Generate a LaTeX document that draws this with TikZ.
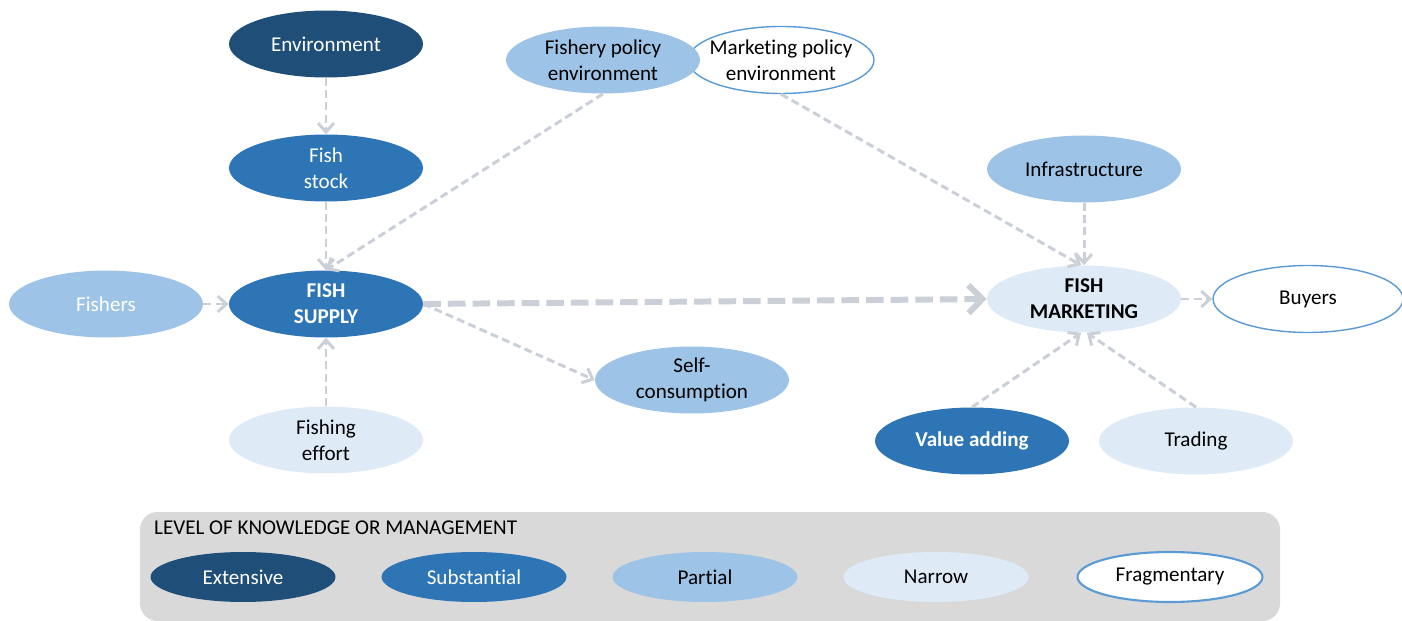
\documentclass[tikz,border=0pt]{standalone}
\usepackage{fontspec}
\setmainfont{Carlito}[Ligatures=NoCommon]
\usetikzlibrary{shapes.geometric, arrows.meta}

\definecolor{extensive}{HTML}{1F4E79}
\definecolor{substantial}{HTML}{2E75B6}
\definecolor{partial}{HTML}{9DC3E6}
\definecolor{narrow}{HTML}{DEEBF7}
\definecolor{fragline}{HTML}{5B9BD5}
\definecolor{linkgray}{HTML}{CACFD8}
\definecolor{legendbg}{HTML}{D9D9D9}

\begin{document}
\begin{tikzpicture}
          [
            x=0.02cm, y=-0.02cm,
            every node/.style={font=\fontsize{12}{14.7}\selectfont, align=center},
            blob/.style={ellipse, minimum width=3.88cm, minimum height=1.34cm, inner sep=0pt},
            keyblob/.style={ellipse, minimum width=3.7cm, minimum height=1.0cm, inner sep=0pt},
            ext/.style={fill=extensive, text=white},
            sub/.style={fill=substantial, text=white},
            par/.style={fill=partial},
            nar/.style={fill=narrow},
            frag/.style={fill=white, draw=fragline, line width=0.8pt},
            flow/.style={draw=linkgray, line width=1.7pt, line join=round,
              dash pattern=on 4.5pt off 2.5pt,
              -{Straight Barb[length=5pt, width=9pt]}},
            bigflow/.style={draw=linkgray, line width=3.4pt, line join=round,
              dash pattern=on 10pt off 4pt,
              -{Straight Barb[length=8pt, width=16pt]}}
          ]
          \useasboundingbox (0,0) rectangle (1402,621);
          % supply side
          \node [blob, ext] (env) at (326,44) {Environment};
          \node [blob, sub] (stock) at (326,168) {Fish\\stock};
          \node [blob, sub, font=\fontsize{12}{14.7}\selectfont\bfseries] (supply) at (326,304) {FISH\\SUPPLY};
          \node [blob, par, text=white] (fishers) at (106,304) {Fishers};
          \node [blob, nar] (effort) at (326,440) {Fishing\\effort};
          \node [blob, par] (selfc) at (692,380) {Self-\\consumption};
          % policy
          \node [blob, frag, minimum width=3.72cm, inner xsep=-9pt] (mkpol) at (781,60) {Marketing policy\\environment};
          \node [blob, par, inner xsep=-6pt] (fipol) at (603,60) {Fishery policy\\environment};
          % marketing side
          \node [blob, par] (infra) at (1084,169) {Infrastructure};
          \node [blob, nar, font=\fontsize{12}{14.7}\selectfont\bfseries] (market) at (1084,299) {FISH\\MARKETING};
          \node [blob, frag, minimum width=3.8cm] (buyers) at (1308,299) {Buyers};
          \node [blob, sub, font=\fontsize{12}{14.7}\selectfont\bfseries] (value) at (972,441) {Value adding};
          \node [blob, nar] (trading) at (1196,441) {Trading};
          % links
          \draw [flow] (env) -- (stock);
          \draw [flow] (stock) -- (supply);
          \draw [flow] (fipol.south) -- (supply.north);
          \draw [flow] (fishers) -- (supply);
          \draw [flow] (effort) -- (supply);
          \draw [flow] (supply.east) -- (selfc.west);
          \draw [bigflow] (supply.east) -- (market.west);
          \draw [flow] (mkpol.south) -- (market.95);
          \draw [flow] (infra) -- (market);
          \draw [flow] (market) -- (buyers);
          \draw [flow] (value.north) -- (market.-95);
          \draw [flow] (trading.north) -- (market.-85);
          % legend
          \fill [legendbg, rounded corners=10pt] (140,512) rectangle (1280,621);
          \node [anchor=west] (keytitle) at (148,528) {LEVEL OF KNOWLEDGE OR MANAGEMENT};
          \node [keyblob, ext] (kext) at (243,577) {Extensive};
          \node [keyblob, sub] (ksub) at (474,577) {Substantial};
          \node [keyblob, par] (kpar) at (705,577) {Partial};
          \node [keyblob, nar] (knar) at (936,577) {Narrow};
          \node [keyblob, frag, line width=1.2pt] (kfrag) at (1170,577) {Fragmentary};
        \end{tikzpicture}
\end{document}
